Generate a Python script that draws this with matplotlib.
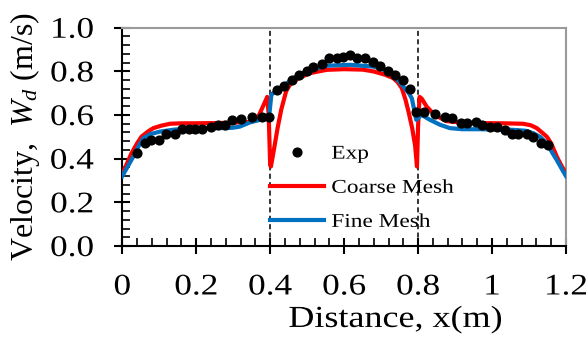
import matplotlib
matplotlib.use("Agg")
import matplotlib.pyplot as plt
from matplotlib.patheffects import AbstractPathEffect
from matplotlib.transforms import Affine2D
from matplotlib.ticker import MultipleLocator

plt.rcParams['font.family'] = 'Liberation Serif'
plt.rcParams['mathtext.fontset'] = 'custom'
plt.rcParams['mathtext.it'] = 'Liberation Serif:italic'
plt.rcParams['mathtext.rm'] = 'Liberation Serif'

# experiment
exp_x = [0.039, 0.061, 0.079, 0.100, 0.118, 0.142, 0.161, 0.180, 0.198, 0.216,
         0.240, 0.258, 0.278, 0.297, 0.321, 0.350, 0.377, 0.397,
         0.418, 0.437, 0.460, 0.478, 0.499, 0.517, 0.540, 0.558, 0.580, 0.598,
         0.616, 0.636, 0.656, 0.679, 0.697, 0.719, 0.737, 0.760, 0.778,
         0.794, 0.816, 0.846, 0.873, 0.892, 0.916, 0.933, 0.956, 0.972, 0.995,
         1.013, 1.035, 1.053, 1.071, 1.094, 1.111, 1.133, 1.152]
exp_y = [0.425, 0.474, 0.486, 0.486, 0.514, 0.514, 0.535, 0.535, 0.535, 0.535,
         0.546, 0.555, 0.552, 0.575, 0.584, 0.593, 0.593, 0.593,
         0.716, 0.734, 0.761, 0.784, 0.800, 0.820, 0.833, 0.861, 0.861, 0.864,
         0.874, 0.862, 0.862, 0.841, 0.823, 0.801, 0.784, 0.761, 0.720,
         0.612, 0.614, 0.604, 0.593, 0.585, 0.565, 0.565, 0.566, 0.553, 0.545,
         0.545, 0.530, 0.513, 0.513, 0.513, 0.501, 0.472, 0.463]

# coarse mesh
coarse_x = [0.0, 0.012, 0.025, 0.04, 0.052, 0.07, 0.084, 0.105, 0.129, 0.16,
            0.19, 0.25, 0.30, 0.34, 0.363, 0.378, 0.392, 0.396, 0.400, 0.402,
            0.41, 0.42, 0.43, 0.443, 0.452, 0.462, 0.485, 0.508, 0.553, 0.6,
            0.65, 0.679, 0.71, 0.733, 0.745, 0.756, 0.766, 0.774, 0.784, 0.792,
            0.797, 0.800, 0.804, 0.81, 0.823, 0.845, 0.877, 0.92, 0.967, 1.03,
            1.084, 1.105, 1.121, 1.135, 1.148, 1.16, 1.175, 1.187, 1.2]
coarse_y = [0.33, 0.375, 0.425, 0.47, 0.501, 0.525, 0.54, 0.551, 0.56, 0.562,
            0.562, 0.563, 0.565, 0.568, 0.575, 0.63, 0.683, 0.60, 0.37, 0.364,
            0.44, 0.54, 0.625, 0.708, 0.735, 0.754, 0.775, 0.792, 0.807, 0.81,
            0.808, 0.80, 0.785, 0.769, 0.75, 0.723, 0.67, 0.616, 0.54, 0.46,
            0.364, 0.55, 0.683, 0.675, 0.639, 0.60, 0.572, 0.565, 0.563, 0.562,
            0.56, 0.553, 0.54, 0.52, 0.501, 0.47, 0.41, 0.37, 0.333]

# fine mesh
fine_x = [0.0, 0.015, 0.03, 0.045, 0.057, 0.075, 0.102, 0.14, 0.192, 0.25,
          0.282, 0.30, 0.318, 0.345, 0.37, 0.39, 0.397, 0.400, 0.403, 0.407,
          0.415, 0.426, 0.445, 0.463, 0.485, 0.508, 0.553, 0.616, 0.679, 0.71,
          0.733, 0.76, 0.775, 0.783, 0.79, 0.795, 0.80, 0.806, 0.815, 0.832,
          0.86, 0.886, 0.92, 0.967, 1.03, 1.057, 1.09, 1.111, 1.13, 1.148,
          1.162, 1.175, 1.188, 1.2]
fine_y = [0.32, 0.365, 0.41, 0.46, 0.494, 0.512, 0.524, 0.533, 0.540, 0.540,
          0.540, 0.542, 0.547, 0.566, 0.577, 0.586, 0.59, 0.64, 0.69, 0.70,
          0.705, 0.716, 0.745, 0.769, 0.79, 0.807, 0.826, 0.830, 0.822, 0.806,
          0.784, 0.731, 0.70, 0.677, 0.62, 0.578, 0.585, 0.60, 0.595, 0.578,
          0.555, 0.540, 0.535, 0.535, 0.533, 0.532, 0.528, 0.517, 0.50, 0.471,
          0.43, 0.394, 0.355, 0.32]

xticks = [0, 0.2, 0.4, 0.6, 0.8, 1.0, 1.2]
xlabels = ['0', '0.2', '0.4', '0.6', '0.8', '1', '1.2']
yticks = [0.0, 0.2, 0.4, 0.6, 0.8, 1.0]
ylabels = ['0.0', '0.2', '0.4', '0.6', '0.8', '1.0']
marks = [0.4, 0.8]


class Widen(AbstractPathEffect):
    # glyphs in the source are wider than the font, stretch them sideways
    def __init__(self, sx=1.18, ref=0.5):
        super().__init__()
        self.sx = sx
        self.ref = ref

    def draw_path(self, renderer, gc, tpath, affine, rgbFace=None):
        ext = tpath.get_extents(affine)
        x0 = ext.x0 + self.ref * ext.width
        t = affine + Affine2D().translate(-x0, 0).scale(self.sx, 1).translate(x0, 0)
        renderer.draw_path(gc, tpath, t, rgbFace)


fig = plt.figure(figsize=(5.87, 3.4), dpi=100)
ax = fig.add_axes([0.2083, 0.2765, 0.7559, 0.642])

for m in marks:
    ax.axvline(m, color='black', lw=1.1, ls=(0, (3.3, 2.2)), zorder=2)

ax.plot(exp_x, exp_y, 'o', color='black', ms=6.3, label='Exp', zorder=5)
ax.plot(coarse_x, coarse_y, color='#ff0000', lw=3, label='Coarse Mesh', zorder=3)
ax.plot(fine_x, fine_y, color='#0070c0', lw=3, label='Fine Mesh', zorder=4)

ax.set_xlim(0, 1.2)
ax.set_ylim(0, 1.0)
ax.set_xticks(xticks)
ax.set_xticklabels(xlabels)
ax.set_yticks(yticks)
ax.set_yticklabels(ylabels)
ax.xaxis.set_minor_locator(MultipleLocator(0.04))
ax.yaxis.set_minor_locator(MultipleLocator(0.04))
ax.tick_params(which='major', direction='inout', length=11, width=1.5,
               labelsize=21.5, pad=15)
ax.tick_params(which='minor', direction='in', length=5.8, width=1.2)

for s in ['left', 'bottom']:
    ax.spines[s].set_linewidth(1.5)
for s in ['top', 'right']:
    ax.spines[s].set_color('#9a9a9a')
    ax.spines[s].set_linewidth(1.5)

for lbl in ax.get_xticklabels():
    lbl.set_path_effects([Widen()])
for lbl in ax.get_yticklabels():
    lbl.set_path_effects([Widen(ref=1.0)])

ax.set_xlabel('Distance, x(m)', fontsize=22, path_effects=[Widen()])
ax.xaxis.set_label_coords(0.615, -0.27)
ax.set_ylabel('Velocity,  $W_d$ (m/s)', fontsize=23)
ax.yaxis.set_label_coords(-0.18, 0.5)

leg = ax.legend(loc='upper left', bbox_to_anchor=(270 / 587, 1 - 145 / 340),
                bbox_transform=fig.transFigure, frameon=False, fontsize=14,
                numpoints=1, handlelength=2.8, handletextpad=0.36,
                labelspacing=0.85, borderpad=0, borderaxespad=0)
for t in leg.get_texts():
    t.set_path_effects([Widen(sx=1.2, ref=0.0)])

fig.savefig('out.png', dpi=100)
